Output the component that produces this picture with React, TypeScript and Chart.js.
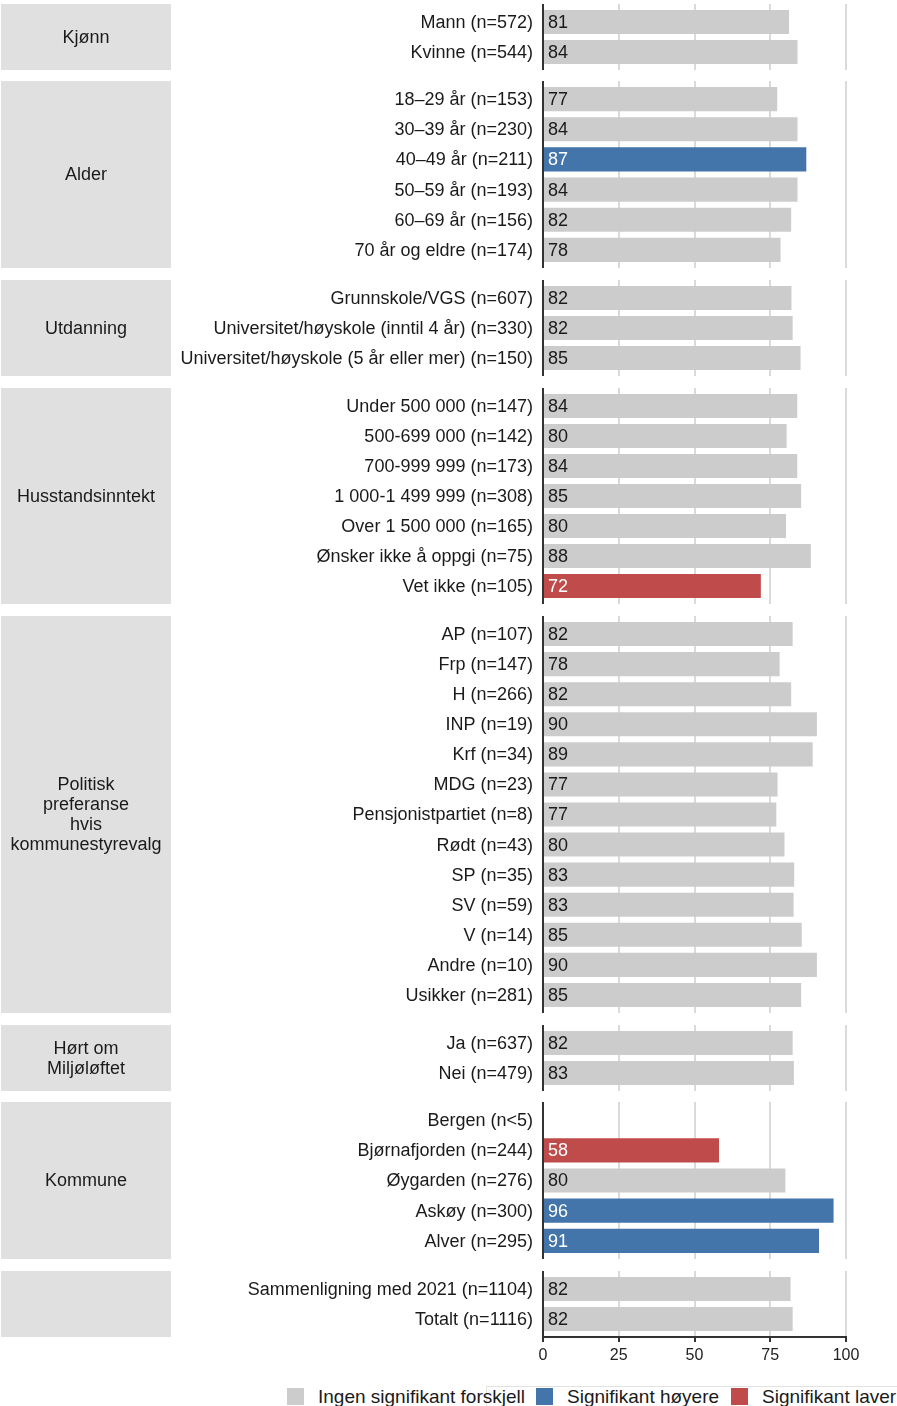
import React, { useEffect, useRef } from 'react';
import { Chart, registerables } from 'chart.js';

Chart.register(...registerables);

// ---------- DATA ----------
const kjonnTitle = 'Kjønn';
const kjonnLabels = ['Mann (n=572)', 'Kvinne (n=544)'];
const kjonnValues = [81.2, 84.0];
const kjonnSig = ['n', 'n'];

const alderTitle = 'Alder';
const alderLabels = ['18–29 år (n=153)', '30–39 år (n=230)', '40–49 år (n=211)', '50–59 år (n=193)', '60–69 år (n=156)', '70 år og eldre (n=174)'];
const alderValues = [77.3, 84.0, 86.9, 84.0, 81.9, 78.4];
const alderSig = ['n', 'n', 'h', 'n', 'n', 'n'];

const utdTitle = 'Utdanning';
const utdLabels = ['Grunnskole/VGS (n=607)', 'Universitet/høyskole (inntil 4 år) (n=330)', 'Universitet/høyskole (5 år eller mer) (n=150)'];
const utdValues = [82.0, 82.4, 85.0];
const utdSig = ['n', 'n', 'n'];

const inntTitle = 'Husstandsinntekt';
const inntLabels = ['Under 500 000 (n=147)', '500-699 000 (n=142)', '700-999 999 (n=173)', '1 000-1 499 999 (n=308)', 'Over 1 500 000 (n=165)', 'Ønsker ikke å oppgi (n=75)', 'Vet ikke (n=105)'];
const inntValues = [83.9, 80.4, 83.9, 85.2, 80.2, 88.4, 71.9];
const inntSig = ['n', 'n', 'n', 'n', 'n', 'n', 'l'];

const partiTitle = 'Politisk\npreferanse\nhvis\nkommunestyrevalg';
const partiLabels = ['AP (n=107)', 'Frp (n=147)', 'H (n=266)', 'INP (n=19)', 'Krf (n=34)', 'MDG (n=23)', 'Pensjonistpartiet (n=8)', 'Rødt (n=43)', 'SP (n=35)', 'SV (n=59)', 'V (n=14)', 'Andre (n=10)', 'Usikker (n=281)'];
const partiValues = [82.4, 78.1, 81.9, 90.4, 89.0, 77.4, 77.0, 79.7, 82.9, 82.7, 85.4, 90.4, 85.2];
const partiSig = ['n', 'n', 'n', 'n', 'n', 'n', 'n', 'n', 'n', 'n', 'n', 'n', 'n'];

const hortTitle = 'Hørt om\nMiljøløftet';
const hortLabels = ['Ja (n=637)', 'Nei (n=479)'];
const hortValues = [82.4, 82.8];
const hortSig = ['n', 'n'];

const kommuneTitle = 'Kommune';
const kommuneLabels = ['Bergen (n<5)', 'Bjørnafjorden (n=244)', 'Øygarden (n=276)', 'Askøy (n=300)', 'Alver (n=295)'];
const kommuneValues: (number | null)[] = [null, 58.1, 80.0, 95.9, 91.1];
const kommuneSig = ['n', 'l', 'n', 'h', 'h'];

const totalTitle = '';
const totalLabels = ['Sammenligning med 2021 (n=1104)', 'Totalt (n=1116)'];
const totalValues = [81.7, 82.4];
const totalSig = ['n', 'n'];

const xTicks = [0, 25, 50, 75, 100];
const legendLabels = ['Ingen signifikant forskjell', 'Signifikant høyere', 'Signifikant laver'];

// ---------- STYLE ----------
const COLORS: Record<string, string> = { n: '#cccccc', h: '#4375aa', l: '#c04b4b' };
const FONT = '"Liberation Sans", Arial, Helvetica, sans-serif';
const W = 897;
const UNIT = 30.08;
const GAP = 11.7;
const TOP0 = 3.5;
const AXIS_LEFT = 543;
const RIGHT_PAD = 51;
const AXIS_H = 40;
const STRIP_X = 1;
const STRIP_W = 170;

const panels = [
  { title: kjonnTitle, labels: kjonnLabels, values: kjonnValues, sig: kjonnSig },
  { title: alderTitle, labels: alderLabels, values: alderValues, sig: alderSig },
  { title: utdTitle, labels: utdLabels, values: utdValues, sig: utdSig },
  { title: inntTitle, labels: inntLabels, values: inntValues, sig: inntSig },
  { title: partiTitle, labels: partiLabels, values: partiValues, sig: partiSig },
  { title: hortTitle, labels: hortLabels, values: hortValues, sig: hortSig },
  { title: kommuneTitle, labels: kommuneLabels, values: kommuneValues, sig: kommuneSig },
  { title: totalTitle, labels: totalLabels, values: totalValues, sig: totalSig },
];

type PanelProps = {
  title: string;
  labels: string[];
  values: (number | null)[];
  sig: string[];
  top: number;
  height: number;
  isLast: boolean;
};

function Panel({ title, labels, values, sig, top, height, isLast }: PanelProps) {
  const ref = useRef<HTMLCanvasElement | null>(null);
  const canvasH = height + (isLast ? AXIS_H : 0);

  useEffect(() => {
    const canvas = ref.current;
    if (!canvas) return;
    const n = labels.length;

    const decor = {
      id: 'panelDecor',
      beforeDraw(chart: any) {
        const { ctx, chartArea } = chart;
        ctx.save();
        ctx.fillStyle = '#e0e0e0';
        ctx.fillRect(STRIP_X, chartArea.top, STRIP_W, chartArea.bottom - chartArea.top);
        ctx.fillStyle = '#1a1a1a';
        ctx.font = `18px ${FONT}`;
        ctx.textAlign = 'center';
        ctx.textBaseline = 'middle';
        const lines = title ? title.split('\n') : [];
        const cy = (chartArea.top + chartArea.bottom) / 2 + 1;
        lines.forEach((l, i) => {
          ctx.fillText(l, STRIP_X + STRIP_W / 2, cy + (i - (lines.length - 1) / 2) * 20);
        });
        ctx.restore();
      },
      afterDatasetsDraw(chart: any) {
        const { ctx } = chart;
        const meta = chart.getDatasetMeta(0);
        ctx.save();
        ctx.font = `18px ${FONT}`;
        ctx.textAlign = 'left';
        ctx.textBaseline = 'middle';
        meta.data.forEach((bar: any, i: number) => {
          const v = values[i];
          if (v == null) return;
          ctx.fillStyle = sig[i] === 'n' ? '#1a1a1a' : '#ffffff';
          ctx.fillText(String(Math.round(v)), bar.base + 4, bar.y + 1);
        });
        ctx.restore();
      },
    };

    const chart = new Chart(canvas, {
      type: 'bar',
      data: {
        datasets: [
          {
            data: values.map((v, i) => ({ x: v, y: i })) as any,
            backgroundColor: sig.map((s) => COLORS[s]),
            borderWidth: 0,
            categoryPercentage: 1,
            barPercentage: 0.8,
          },
        ],
      },
      options: {
        responsive: false,
        animation: false,
        indexAxis: 'y',
        devicePixelRatio: 1,
        layout: { padding: { left: 0, right: RIGHT_PAD, top: 0, bottom: 0 } },
        plugins: { legend: { display: false }, tooltip: { enabled: false } },
        scales: {
          y: {
            type: 'linear',
            reverse: true,
            offset: false,
            min: -0.6,
            max: n - 0.4,
            afterBuildTicks(scale: any) {
              scale.ticks = labels.map((_, i) => ({ value: i }));
            },
            afterFit(scale: any) {
              scale.width = AXIS_LEFT;
              scale.paddingTop = 0;
              scale.paddingBottom = 0;
            },
            grid: { display: false, drawTicks: false, offset: false },
            border: { display: true, color: '#333333', width: 2 },
            ticks: {
              autoSkip: false,
              padding: 10,
              labelOffset: 1,
              color: '#1a1a1a',
              font: { family: FONT, size: 18 },
              callback: (v: any) => labels[Math.round(Number(v))] ?? '',
            },
          },
          x: {
            type: 'linear',
            min: 0,
            max: 100,
            afterBuildTicks(scale: any) {
              scale.ticks = xTicks.map((v) => ({ value: v }));
            },
            afterFit(scale: any) {
              scale.height = isLast ? AXIS_H : 0;
              if (!isLast) {
                scale.paddingLeft = 0;
                scale.paddingRight = 0;
              }
            },
            grid: {
              color: '#dadada',
              lineWidth: 2,
              drawTicks: isLast,
              tickLength: 5,
              tickColor: '#333333',
              tickWidth: 2,
            },
            border: { display: isLast, color: '#333333', width: 2 },
            ticks: {
              display: isLast,
              padding: 4,
              color: '#222222',
              font: { family: FONT, size: 16 },
              maxRotation: 0,
              autoSkip: false,
            },
          },
        },
      },
      plugins: [decor],
    } as any);

    return () => chart.destroy();
  }, []);

  return (
    <canvas
      ref={ref}
      width={W}
      height={canvasH}
      style={{ position: 'absolute', left: 0, top, width: W, height: canvasH, display: 'block' }}
    />
  );
}

export default function App() {
  useEffect(() => {
    document.body.style.margin = '0';
  }, []);

  let acc = TOP0;
  const layout = panels.map((p, i) => {
    const h = (p.labels.length + 0.2) * UNIT;
    const top = acc;
    acc += h + GAP;
    return { ...p, top: Math.round(top), height: Math.round(top + h) - Math.round(top), isLast: i === panels.length - 1 };
  });

  const legendColors = [COLORS.n, COLORS.h, COLORS.l];
  const legendLefts = [287, 536, 731];

  return (
    <div style={{ position: 'relative', width: W, height: 1440, overflow: 'hidden', background: '#fff' }}>
      {layout.map((p, i) => (
        <Panel key={i} {...p} />
      ))}
      <div
        style={{
          position: 'absolute',
          left: 486,
          top: 1386,
          width: 420,
          height: 40,
          borderTop: '1px solid #e3e3e3',
          borderLeft: '1px solid #e3e3e3',
          boxSizing: 'border-box',
        }}
      />
      {legendLabels.map((l, i) => (
        <div
          key={l}
          style={{
            position: 'absolute',
            left: legendLefts[i],
            top: 1388,
            display: 'flex',
            alignItems: 'center',
            height: 17,
            whiteSpace: 'nowrap',
            fontFamily: FONT,
            fontSize: 19,
            color: '#1a1a1a',
          }}
        >
          <span style={{ display: 'inline-block', width: 17, height: 17, background: legendColors[i], marginRight: 14 }} />
          <span>{l}</span>
        </div>
      ))}
    </div>
  );
}
